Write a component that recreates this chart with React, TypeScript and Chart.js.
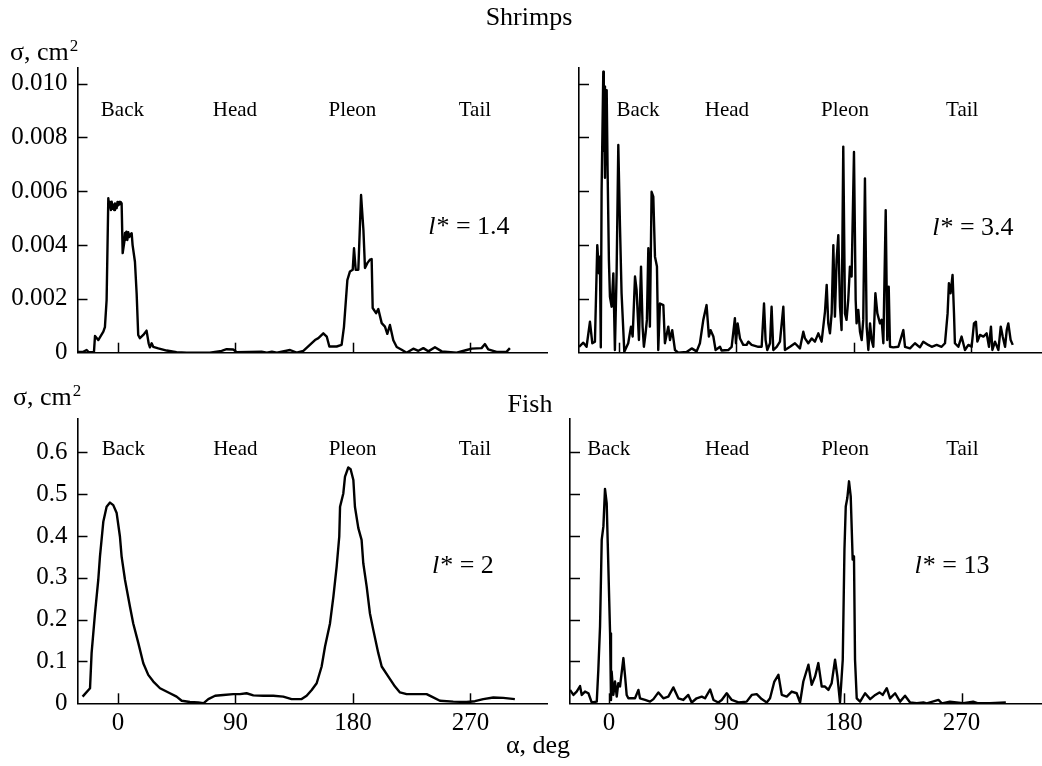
import React, { useEffect, useRef } from "react";
import { Chart, registerables } from "chart.js";
Chart.register(...registerables);

// ---------------- data ----------------
const X_TICKS = [0, 90, 180, 270];
const X_TICK_LABELS = ["0", "90", "180", "270"];
const Y_TICKS_SHRIMP = [0, 0.002, 0.004, 0.006, 0.008, 0.01];
const Y_TICK_LABELS_SHRIMP = ["0", "0.002", "0.004", "0.006", "0.008", "0.010"];
const Y_TICKS_FISH = [0, 0.1, 0.2, 0.3, 0.4, 0.5, 0.6];
const Y_TICK_LABELS_FISH = ["0", "0.1", "0.2", "0.3", "0.4", "0.5", "0.6"];
const REGION_NAMES = ["Back", "Head", "Pleon", "Tail"];

// Shrimps, l* = 1.4
const SHRIMP_14_DEG = [-31, -26.6, -24, -22.7, -18.4, -17.6, -15.1, -11.2, -10, -8.7, -7.4, -6.8, -6.1, -5.4, -4.8, -4.2, -3.6, -2.9, -2.3, -1.6, -1, -0.4, 0.3, 0.9, 1.5, 2.1, 2.8, 3.6, 4.9, 5.4, 5.9, 6.5, 7.2, 7.9, 8.7, 9.6, 10.5, 11.2, 13, 14.3, 15.5, 16.8, 19.4, 21.9, 23.5, 24.5, 25.8, 27, 30.9, 37.3, 44.9, 52.6, 70.4, 79.4, 83.2, 88.3, 90.9, 110, 114, 117.9, 121.7, 131.8, 136.8, 142, 150.9, 153.5, 157.3, 159.9, 161.9, 167.5, 171.3, 173.1, 175.7, 177.7, 179.8, 180.8, 182.1, 184.1, 186.2, 188, 189.2, 191, 193, 194.3, 195.1, 197.7, 199.4, 202, 204.5, 206.3, 208.3, 210.9, 213.5, 217.3, 221.1, 226.2, 230.1, 233.9, 237.7, 242.8, 248, 259.4, 267.1, 271, 278.5, 281.1, 283.6, 290, 297.6, 300.2];
const SHRIMP_14_VAL = [0.00003, 0.00003, 0.0001, 0.00003, 0.00002, 0.00062, 0.00047, 0.00078, 0.00095, 0.00196, 0.00574, 0.0054, 0.0056, 0.0053, 0.00561, 0.00535, 0.0055, 0.0053, 0.00555, 0.0054, 0.00537, 0.0056, 0.00548, 0.0056, 0.00552, 0.0056, 0.00555, 0.0037, 0.00413, 0.00445, 0.0042, 0.0045, 0.00419, 0.00448, 0.0043, 0.0044, 0.00444, 0.004, 0.00338, 0.0022, 0.00066, 0.00054, 0.00066, 0.00082, 0.00035, 0.0002, 0.00035, 0.00022, 0.00016, 0.00008, 0.00002, 0, 0, 0.00007, 0.00013, 0.00012, 0.00002, 0.00004, 0, 0.00004, 0, 0.0001, 0, 0.00007, 0.00047, 0.00054, 0.00072, 0.0006, 0.00023, 0.00023, 0.00029, 0.00096, 0.0027, 0.00302, 0.00308, 0.00388, 0.00308, 0.00308, 0.00586, 0.00456, 0.00315, 0.00333, 0.00346, 0.00348, 0.00166, 0.00147, 0.00162, 0.0011, 0.00097, 0.0007, 0.00103, 0.00046, 0.00021, 0.00011, 0, 0.00015, 0.00007, 0.00017, 0.00005, 0.0002, 0.00005, 0, 0.0001, 0.00015, 0.00017, 0.00032, 0.00012, 0.00003, 0.00003, 0.00017];

// Shrimps, l* = 3.4
const SHRIMP_34_DEG = [-30.6, -27.3, -24.8, -22.2, -20.4, -18.4, -16.6, -15.3, -14.6, -13.9, -13.3, -12.0, -11.6, -11.2, -10.7, -10.2, -9.8, -9.4, -8.7, -7.7, -6.9, -5.6, -4.3, -3.1, -1.8, -0.5, 0.8, 2.0, 4.1, 7.1, 9.2, 10.5, 12.3, 13.5, 15.3, 16.9, 18.1, 19.1, 20.4, 21.4, 22.5, 23.7, 25.0, 26.3, 27.6, 29.1, 30.1, 31.4, 34.0, 35.2, 37.8, 39.1, 40.8, 42.9, 45.4, 51.8, 55.7, 59.5, 62.0, 64.6, 67.1, 68.9, 70.2, 72.3, 74.0, 77.4, 78.6, 83.7, 86.3, 88.8, 89.6, 90.9, 92.7, 95.2, 97.8, 99.1, 101.6, 106.7, 109.3, 111.1, 112.3, 113.6, 115.7, 116.9, 118.2, 120.8, 123.3, 125.9, 127.1, 131.0, 134.8, 138.6, 141.2, 142.5, 145.0, 147.6, 150.1, 152.7, 155.2, 157.8, 159.1, 160.3, 161.6, 162.9, 164.2, 165.4, 166.7, 168.0, 169.3, 170.5, 171.8, 173.1, 174.3, 175.6, 176.9, 178.2, 180.0, 181.3, 182.0, 183.3, 184.6, 185.9, 187.1, 188.4, 189.7, 191.0, 192.3, 193.5, 194.8, 196.4, 197.9, 199.9, 201.2, 202.5, 204.3, 205.5, 206.6, 207.6, 210.1, 214.0, 217.8, 219.1, 222.9, 226.7, 230.5, 233.1, 236.9, 239.5, 243.3, 247.1, 249.7, 251.7, 252.7, 254.0, 255.5, 256.6, 257.3, 259.9, 262.4, 265.0, 267.6, 270.1, 271.9, 273.4, 274.5, 276.5, 279.1, 281.6, 283.4, 284.9, 286.0, 288.0, 290.6, 292.4, 293.9, 295.7, 297.0, 298.2, 300.0, 301.6];
const SHRIMP_34_VAL = [0.00022, 0.00037, 0.00022, 0.00115, 0.00035, 0.00041, 0.004, 0.00295, 0.00357, 0.0002, 0.00598, 0.01044, 0.0075, 0.0099, 0.0065, 0.0095, 0.007, 0.00976, 0.00679, 0.00345, 0.00208, 0.00171, 0.00295, 0.0001, 0.00295, 0.00772, 0.00468, 0.00221, 0.00004, 0.00035, 0.00097, 0.0006, 0.00283, 0.00233, 0.00047, 0.0032, 0.00097, 0.00022, 0.00072, 0.00122, 0.00388, 0.00097, 0.00598, 0.0058, 0.00357, 0.0032, 0.0001, 0.00183, 0.00177, 0.00035, 0.00097, 0.00047, 0.00084, 0.0001, 0, 0.00003, 0.00016, 0.00005, 0.00035, 0.00122, 0.00177, 0.0006, 0.00084, 0.0006, 0.0001, 0.00022, 0.00008, 0.0001, 0.00022, 0.00128, 0.00035, 0.00109, 0.00053, 0.00029, 0.00029, 0.00041, 0.00029, 0.00022, 0.00022, 0.00183, 0.00047, 0.0001, 0.00035, 0.00171, 0.0001, 0.00022, 0.00041, 0.00171, 0.0001, 0.00022, 0.00035, 0.00016, 0.00078, 0.00053, 0.00035, 0.00053, 0.00041, 0.00072, 0.00041, 0.00153, 0.00252, 0.00109, 0.00072, 0.00146, 0.004, 0.00134, 0.00345, 0.00437, 0.00171, 0.00084, 0.00766, 0.00146, 0.00122, 0.00196, 0.0032, 0.00283, 0.00746, 0.00196, 0.00109, 0.00159, 0.00078, 0.00047, 0.00122, 0.00648, 0.00097, 0.0001, 0.00109, 0.00047, 0.00022, 0.00221, 0.00146, 0.00109, 0.00122, 0.00035, 0.0053, 0.00047, 0.00245, 0.00022, 0.0002, 0.00022, 0.00084, 0.00022, 0.00016, 0.00035, 0.0002, 0.00041, 0.00029, 0.00022, 0.00029, 0.00022, 0.00035, 0.00146, 0.00258, 0.00221, 0.00289, 0.00146, 0.00035, 0.00022, 0.0006, 0.0001, 0.00029, 0.00022, 0.00109, 0.00115, 0.00041, 0.00066, 0.0006, 0.00072, 0.00022, 0.00097, 0.0001, 0.00041, 0.0001, 0.00097, 0.0006, 0.00022, 0.00084, 0.00109, 0.00047, 0.00029];

// Fish, l* = 2
const FISH_2_DEG = [-27.1, -21.4, -20.2, -17.6, -15.1, -13.8, -11.2, -8.7, -6.1, -3.6, -1, 1.5, 2.8, 5.4, 9.2, 11.7, 15.6, 19.4, 23.2, 27.1, 32.2, 39.8, 44.9, 48.8, 55.1, 61.5, 65.4, 69.2, 74.4, 80.7, 88.3, 93.4, 98.5, 103.7, 111.3, 119, 126.6, 133, 140.7, 144.5, 148.4, 152.2, 156, 158.6, 162.4, 165, 167.5, 169.5, 170.1, 172.6, 173.9, 176.4, 178.2, 180.3, 181.5, 184.1, 186.6, 187.9, 190.5, 193, 195.6, 199.4, 202, 207.1, 212.2, 216, 221.1, 228.8, 236.4, 240.3, 246.6, 256.8, 267, 273.4, 279.8, 287.5, 295.1, 304];
const FISH_2_VAL = [0.016, 0.036, 0.12, 0.215, 0.295, 0.351, 0.435, 0.47, 0.48, 0.474, 0.455, 0.399, 0.351, 0.295, 0.231, 0.191, 0.144, 0.096, 0.068, 0.052, 0.036, 0.024, 0.016, 0.006, 0.003, 0.002, 0, 0.01, 0.018, 0.02, 0.022, 0.022, 0.024, 0.019, 0.018, 0.018, 0.016, 0.01, 0.01, 0.018, 0.032, 0.048, 0.088, 0.136, 0.191, 0.255, 0.327, 0.399, 0.47, 0.502, 0.542, 0.564, 0.56, 0.534, 0.47, 0.419, 0.391, 0.335, 0.279, 0.215, 0.175, 0.12, 0.088, 0.064, 0.04, 0.026, 0.022, 0.022, 0.022, 0.016, 0.006, 0.004, 0.003, 0.005, 0.01, 0.014, 0.013, 0.01];

// Fish, l* = 13
const FISH_13_DEG = [-29.9, -27.3, -24.8, -22.2, -20.9, -18.4, -15.8, -13.3, -9.4, -8.2, -6.9, -5.6, -4.3, -3.1, -1.8, -1.0, 0.8, 1.5, 2.0, 3.3, 4.6, 5.9, 7.1, 8.4, 11.0, 12.3, 13.5, 14.8, 17.4, 19.9, 22.5, 23.7, 27.6, 31.4, 34.0, 37.8, 41.6, 45.4, 49.3, 53.1, 56.9, 60.7, 63.3, 67.1, 71.0, 73.5, 77.4, 80.0, 83.7, 86.3, 90.1, 94.0, 99.1, 105.4, 109.3, 113.1, 116.9, 120.8, 123.3, 126.6, 129.7, 132.3, 136.1, 139.9, 143.7, 146.3, 148.8, 152.7, 155.2, 157.8, 160.3, 162.9, 165.4, 168.0, 170.5, 173.1, 174.9, 176.9, 179.0, 180.3, 181.3, 182.5, 183.8, 185.1, 186.6, 187.6, 188.4, 189.7, 192.3, 196.1, 200.0, 203.9, 207.1, 209.6, 212.7, 215.2, 219.1, 222.9, 226.7, 230.6, 235.7, 240.8, 243.3, 252.3, 254.9, 261.0, 266.1, 271.3, 278.9, 282.7, 291.6, 303.9];
const FISH_13_VAL = [0.032, 0.02, 0.028, 0.041, 0.02, 0.028, 0.024, 0.002, 0.004, 0.08, 0.183, 0.391, 0.423, 0.512, 0.478, 0.383, 0.167, 0.008, 0.076, 0.02, 0.052, 0.016, 0.048, 0.04, 0.108, 0.064, 0.02, 0.012, 0.012, 0.012, 0.032, 0.012, 0.008, 0.004, 0.01, 0.026, 0.012, 0.016, 0.038, 0.012, 0.008, 0.02, 0.002, 0.012, 0.016, 0.012, 0.033, 0.008, 0.002, 0.008, 0.024, 0.008, 0.002, 0.004, 0.02, 0.022, 0.01, 0.002, 0.012, 0.052, 0.068, 0.02, 0.016, 0.028, 0.024, 0.002, 0.052, 0.092, 0.044, 0.064, 0.096, 0.04, 0.04, 0.032, 0.048, 0.104, 0.064, 0.002, 0.104, 0.367, 0.47, 0.49, 0.53, 0.494, 0.343, 0.351, 0.104, 0.012, 0.004, 0.024, 0.01, 0.02, 0.026, 0.02, 0.036, 0.012, 0.024, 0.004, 0.018, 0.002, 0, 0.002, 0, 0.008, 0, 0.004, 0.002, 0, 0.004, 0, 0, 0.002];

// ---------------- layout / style ----------------
const W = 1042;
const H = 766;
const Y_AXIS_W = 70;
const X_AXIS_H = 40;
const SERIF = '"Liberation Serif", "Times New Roman", serif';

type Panel = {
  deg: number[];
  val: number[];
  area: { left: number; right: number; top: number; bottom: number };
  xMin: number;
  xMax: number;
  yMax: number;
  yTicks: number[];
  yLabels: string[];
  showYLabels: boolean;
  showXLabels: boolean;
  regionX: number[];
  regionY: number;
  lstarText: string;
  lstarX: number;
  lstarY: number;
  pageText?: boolean;
};

const PANELS: Panel[] = [
  {
    deg: SHRIMP_14_DEG, val: SHRIMP_14_VAL,
    area: { left: 77.5, right: 547.5, top: 67.5, bottom: 352.7 },
    xMin: -31, xMax: 329, yMax: 0.0106,
    yTicks: Y_TICKS_SHRIMP, yLabels: Y_TICK_LABELS_SHRIMP, showYLabels: true, showXLabels: false,
    regionX: [3.4, 89.6, 179.6, 273.4], regionY: 0.00902,
    lstarText: "* = 1.4", lstarX: 268.8, lstarY: 0.00465, pageText: true,
  },
  {
    deg: SHRIMP_34_DEG, val: SHRIMP_34_VAL,
    area: { left: 579, right: 1042, top: 67.5, bottom: 352.7 },
    xMin: -30.6, xMax: 324, yMax: 0.0106,
    yTicks: Y_TICKS_SHRIMP, yLabels: Y_TICK_LABELS_SHRIMP, showYLabels: false, showXLabels: false,
    regionX: [14.6, 82.7, 173.1, 262.9], regionY: 0.00902,
    lstarText: "* = 3.4", lstarX: 271.1, lstarY: 0.00463,
  },
  {
    deg: FISH_2_DEG, val: FISH_2_VAL,
    area: { left: 77.5, right: 547.5, top: 419, bottom: 703.3 },
    xMin: -31, xMax: 329, yMax: 0.68,
    yTicks: Y_TICKS_FISH, yLabels: Y_TICK_LABELS_FISH, showYLabels: true, showXLabels: true,
    regionX: [4.1, 89.9, 179.7, 273.4], regionY: 0.607,
    lstarText: "* = 2", lstarX: 264.2, lstarY: 0.329,
  },
  {
    deg: FISH_13_DEG, val: FISH_13_VAL,
    area: { left: 570, right: 1042, top: 418.5, bottom: 703.3 },
    xMin: -29.9, xMax: 331.6, yMax: 0.68,
    yTicks: Y_TICKS_FISH, yLabels: Y_TICK_LABELS_FISH, showYLabels: false, showXLabels: true,
    regionX: [-0.2, 90.5, 180.8, 270.6], regionY: 0.606,
    lstarText: "* = 13", lstarX: 262.7, lstarY: 0.327,
  },
];

function makePlugins(p: Panel) {
  const inwardTicks = {
    id: "inwardTicks",
    afterDraw(chart: any) {
      const { ctx, chartArea, scales } = chart;
      ctx.save();
      ctx.strokeStyle = "#000";
      ctx.lineWidth = 1.5;
      for (const t of scales.x.ticks) {
        const px = Math.round(scales.x.getPixelForValue(t.value)) + 0.5;
        ctx.beginPath();
        ctx.moveTo(px, chartArea.bottom);
        ctx.lineTo(px, chartArea.bottom - 10);
        ctx.stroke();
      }
      for (const t of scales.y.ticks) {
        if (t.value === 0) continue;
        const py = Math.round(scales.y.getPixelForValue(t.value)) + 0.5;
        ctx.beginPath();
        ctx.moveTo(chartArea.left, py);
        ctx.lineTo(chartArea.left + 10, py);
        ctx.stroke();
      }
      ctx.restore();
    },
  };
  const annotations = {
    id: "annotations",
    afterDraw(chart: any) {
      const { ctx, scales } = chart;
      ctx.save();
      ctx.fillStyle = "#000";
      ctx.textAlign = "center";
      ctx.textBaseline = "middle";
      ctx.font = `21px ${SERIF}`;
      const ry = scales.y.getPixelForValue(p.regionY);
      REGION_NAMES.forEach((name, i) => {
        ctx.fillText(name, scales.x.getPixelForValue(p.regionX[i]), ry);
      });
      // l* = ...
      const cx = scales.x.getPixelForValue(p.lstarX);
      const cy = scales.y.getPixelForValue(p.lstarY);
      ctx.font = `italic 26px ${SERIF}`;
      const w1 = ctx.measureText("l").width;
      ctx.font = `26px ${SERIF}`;
      const w2 = ctx.measureText(p.lstarText).width;
      const x0 = cx - (w1 + w2 + 1) / 2;
      ctx.textAlign = "left";
      ctx.font = `italic 26px ${SERIF}`;
      ctx.fillText("l", x0, cy);
      ctx.font = `26px ${SERIF}`;
      ctx.fillText(p.lstarText, x0 + w1 + 1, cy);

      if (p.pageText) {
        ctx.textBaseline = "alphabetic";
        ctx.textAlign = "center";
        ctx.font = `26px ${SERIF}`;
        ctx.fillText("Shrimps", 529, 25);
        ctx.fillText("Fish", 530, 411.5);
        ctx.fillText("α, deg", 538, 753);
        ctx.textAlign = "left";
        const drawSigma = (x: number, y: number) => {
          ctx.font = `26px ${SERIF}`;
          ctx.fillText("σ, cm", x, y);
          const w = ctx.measureText("σ, cm").width;
          ctx.font = `17px ${SERIF}`;
          ctx.fillText("2", x + w + 1, y - 9);
        };
        drawSigma(10, 60);
        drawSigma(13, 405);
      }
      ctx.restore();
    },
  };
  return [inwardTicks, annotations];
}

function makeConfig(p: Panel): any {
  const font = { family: SERIF, size: 25 };
  return {
    type: "line",
    data: {
      datasets: [
        {
          data: p.deg.map((d, i) => ({ x: d, y: p.val[i] })),
          borderColor: "#000",
          borderWidth: 2.4,
          borderJoinStyle: "round",
          pointRadius: 0,
          tension: 0,
          fill: false,
        },
      ],
    },
    options: {
      responsive: false,
      animation: false,
      events: [],
      layout: {
        padding: {
          left: p.area.left - Y_AXIS_W,
          top: p.area.top,
          right: W - p.area.right,
          bottom: H - p.area.bottom - X_AXIS_H,
        },
      },
      plugins: { legend: { display: false }, tooltip: { enabled: false }, title: { display: false } },
      scales: {
        x: {
          type: "linear",
          min: p.xMin,
          max: p.xMax,
          afterBuildTicks: (s: any) => {
            s.ticks = X_TICKS.map((v) => ({ value: v }));
          },
          afterFit: (s: any) => {
            s.height = X_AXIS_H;
          },
          grid: { display: false, drawTicks: false },
          border: { display: true, color: "#000", width: 1.6 },
          ticks: {
            display: p.showXLabels,
            padding: 5,
            color: "#000",
            font,
            maxRotation: 0,
            autoSkip: false,
            callback: (_v: any, i: number) => X_TICK_LABELS[i],
          },
        },
        y: {
          type: "linear",
          min: 0,
          max: p.yMax,
          afterBuildTicks: (s: any) => {
            s.ticks = p.yTicks.map((v) => ({ value: v }));
          },
          afterFit: (s: any) => {
            s.width = Y_AXIS_W;
          },
          grid: { display: false, drawTicks: false },
          border: { display: true, color: "#000", width: 1.6 },
          ticks: {
            display: p.showYLabels,
            padding: 10,
            color: "#000",
            font,
            autoSkip: false,
            callback: (_v: any, i: number) => p.yLabels[i],
          },
        },
      },
    },
    plugins: makePlugins(p),
  };
}

function PanelChart({ panel }: { panel: Panel }) {
  const ref = useRef<HTMLCanvasElement>(null);
  useEffect(() => {
    const chart = new Chart(ref.current as HTMLCanvasElement, makeConfig(panel));
    return () => chart.destroy();
  }, [panel]);
  return (
    <canvas
      ref={ref}
      width={W}
      height={H}
      style={{ position: "absolute", left: 0, top: 0, width: W, height: H }}
    />
  );
}

export default function App() {
  return (
    <div
      style={{
        position: "absolute",
        left: 0,
        top: 0,
        width: W,
        height: H,
        background: "#fff",
        overflow: "hidden",
      }}
    >
      {PANELS.map((p, i) => (
        <PanelChart key={i} panel={p} />
      ))}
    </div>
  );
}
